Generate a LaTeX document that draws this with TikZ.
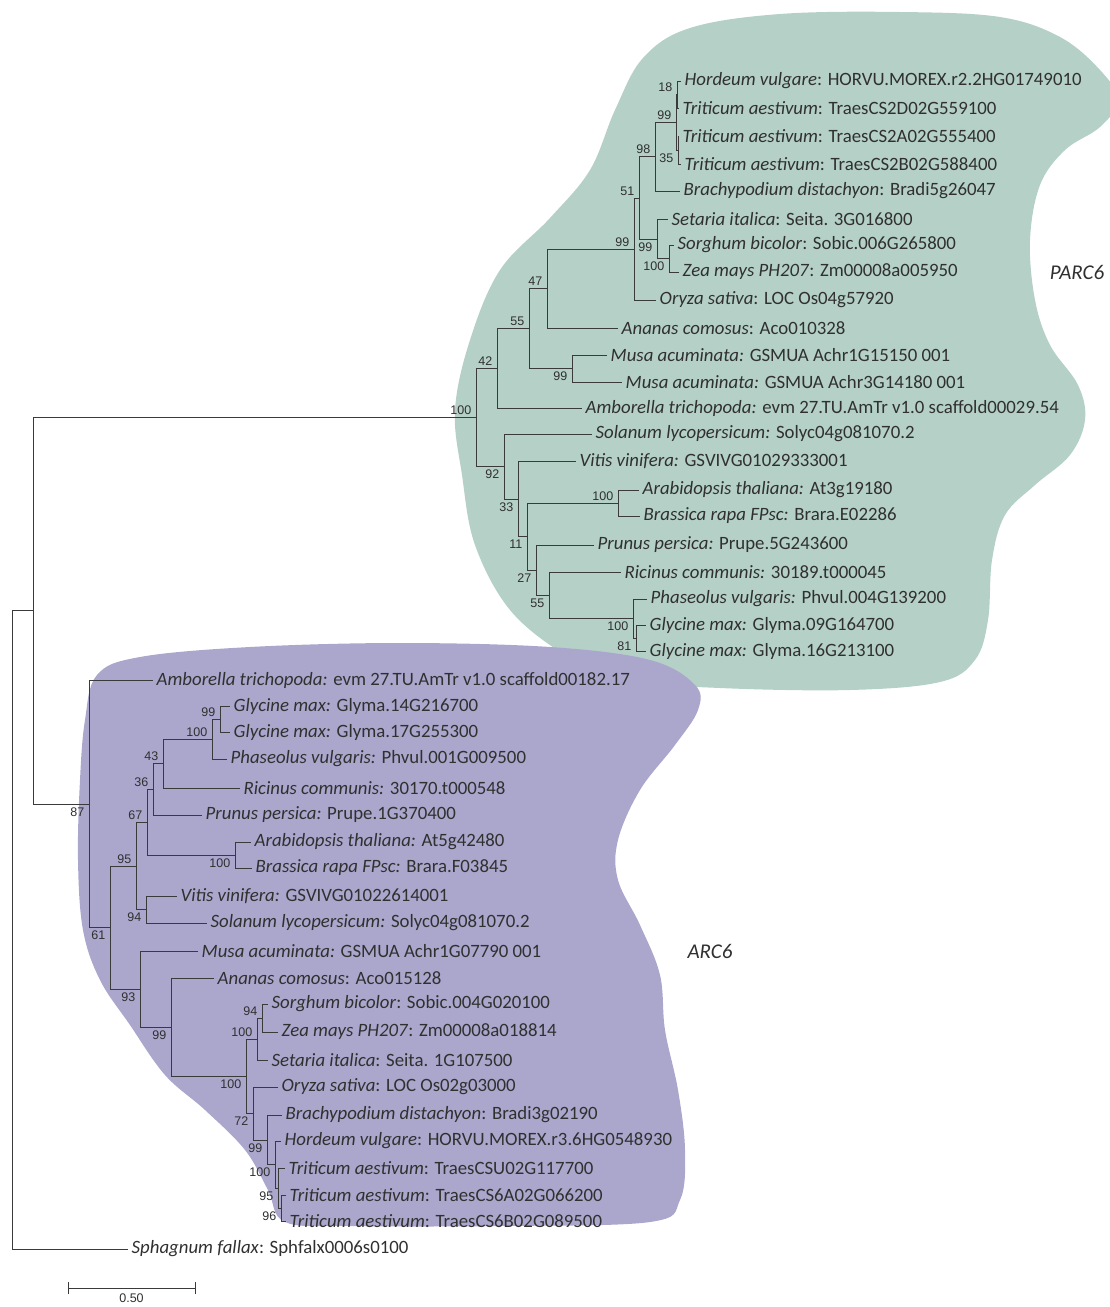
\documentclass[tikz,border=0pt]{standalone}
\usepackage{fontspec}
\setmainfont{Carlito}
\newfontfamily\bsfont{Liberation Sans}
\usetikzlibrary{positioning}

\definecolor{parcgreen}{HTML}{B4D0C7}
\definecolor{arcpurple}{HTML}{AAA6CC}
\definecolor{branch}{HTML}{3A3A3A}
\definecolor{txtgray}{HTML}{303030}

\tikzset{
  leaf/.style={anchor=west, inner xsep=3.5pt, inner ysep=2pt, font=\fontsize{18.8}{19}\selectfont, text=txtgray},
  bs/.style={inner sep=1.5pt, font=\bsfont\fontsize{12.5}{13}\selectfont, text=txtgray},
  br/.style={draw=branch, line width=1pt},
  group/.style={inner sep=0pt, font=\fontsize{21}{22}\selectfont\itshape, text=txtgray},
}

\begin{document}
\begin{tikzpicture}[x=1pt,y=-1pt]
\useasboundingbox (0,0) rectangle (1110,1307);

%Draw PARC6 region
\fill[parcgreen] plot[smooth cycle, tension=0.6] coordinates {
  (643,58) (690,28) (780,14) (900,12) (1000,17) (1060,37) (1100,70) (1118,100)
  (1100,127) (1065,150) (1040,185) (1030,240) (1035,300) (1050,345) (1078,385)
  (1085,420) (1070,455) (1035,485) (1005,515) (992,560) (988,620) (975,660)
  (940,682) (850,690) (720,688) (620,680) (565,655) (510,610) (475,545)
  (462,475) (455,410) (470,340) (500,270) (550,218) (590,170) (615,110)};
\node[group] (parc) at (1077,272) {PARC6};

%Draw ARC6 region
\fill[arcpurple] plot[smooth cycle, tension=0.6] coordinates {
  (97,675) (140,657) (250,647) (400,643) (550,647) (650,660) (695,685)
  (698,710) (675,745) (640,790) (618,840) (618,880) (640,925) (660,975)
  (665,1030) (678,1090) (685,1150) (680,1200) (650,1222) (500,1226)
  (350,1226) (285,1222) (268,1190) (245,1150) (205,1110) (165,1075)
  (130,1025) (100,980) (83,930) (78,860) (80,780) (85,720)};
\node[group] (arc) at (710,951) {ARC6};

% PARC6 leaves
\node[leaf] (p1) at (681,81) {\textit{Hordeum vulgare}: HORVU.MOREX.r2.2HG01749010};
\node[leaf] (p2) at (679,108) {\textit{Triticum aestivum}: TraesCS2D02G559100};
\node[leaf] (p3) at (679,136) {\textit{Triticum aestivum}: TraesCS2A02G555400};
\node[leaf] (p4) at (681,164) {\textit{Triticum aestivum}: TraesCS2B02G588400};
\node[leaf] (p5) at (680,191) {\textit{Brachypodium distachyon}: Bradi5g26047};
\node[leaf] (p6) at (668,219) {\textit{Setaria italica}: Seita. 3G016800};
\node[leaf] (p7) at (674,245) {\textit{Sorghum bicolor}: Sobic.006G265800};
\node[leaf] (p8) at (679,272) {\textit{Zea mays PH207}: Zm00008a005950};
\node[leaf] (p9) at (656,300) {\textit{Oryza sativa}: LOC Os04g57920};
\node[leaf] (p10) at (618,328) {\textit{Ananas comosus}: Aco010328};
\node[leaf] (p11) at (607,355) {\textit{Musa acuminata:} GSMUA Achr1G15150 001};
\node[leaf] (p12) at (622,382) {\textit{Musa acuminata:} GSMUA Achr3G14180 001};
\node[leaf] (p13) at (582,408) {\textit{Amborella trichopoda:} evm 27.TU.AmTr v1.0 scaffold00029.54};
\node[leaf] (p14) at (592,434) {\textit{Solanum lycopersicum:} Solyc04g081070.2};
\node[leaf] (p15) at (576,461) {\textit{Vitis vinifera:} GSVIVG01029333001};
\node[leaf] (p16) at (639,490) {\textit{Arabidopsis thaliana:} At3g19180};
\node[leaf] (p17) at (640,516) {\textit{Brassica rapa FPsc:} Brara.E02286};
\node[leaf] (p18) at (594,545) {\textit{Prunus persica:} Prupe.5G243600};
\node[leaf] (p19) at (621,572) {\textit{Ricinus communis:} 30189.t000045};
\node[leaf] (p20) at (647,599) {\textit{Phaseolus vulgaris:} Phvul.004G139200};
\node[leaf] (p21) at (646,625) {\textit{Glycine max:} Glyma.09G164700};
\node[leaf] (p22) at (646,651) {\textit{Glycine max:} Glyma.16G213100};

% PARC6 inner nodes
\coordinate (pw18) at (677,94.5);
\coordinate (pw35) at (678,150);
\coordinate (pw99) at (676,122);
\coordinate (p98) at (655,156.5);
\coordinate (pzs) at (669,258.5);
\coordinate (ppa) at (657,239);
\coordinate (p51) at (639,198);
\coordinate (p99) at (634,249);
\coordinate (p47) at (547,288.5);
\coordinate (pmu) at (572,368.5);
\coordinate (p55) at (529,328.5);
\coordinate (p42) at (497,368);
\coordinate (pab) at (618,503);
\coordinate (pgl) at (636,638);
\coordinate (ple) at (633,618.5);
\coordinate (p55b) at (549,595);
\coordinate (p27) at (536,570);
\coordinate (p11n) at (527,536.5);
\coordinate (p33) at (518,499);
\coordinate (p92) at (504,466.5);
\coordinate (p100) at (476,417);

% PARC6 branches
\draw[br] (pw18) |- (p1.west) (pw18) |- (p2.west);
\draw[br] (pw35) |- (p3.west) (pw35) |- (p4.west);
\draw[br] (pw99) |- (pw18) (pw99) |- (pw35);
\draw[br] (p98) |- (pw99) (p98) |- (p5.west);
\draw[br] (pzs) |- (p7.west) (pzs) |- (p8.west);
\draw[br] (ppa) |- (p6.west) (ppa) |- (pzs);
\draw[br] (p51) |- (p98) (p51) |- (ppa);
\draw[br] (p99) |- (p51) (p99) |- (p9.west);
\draw[br] (p47) |- (p99) (p47) |- (p10.west);
\draw[br] (pmu) |- (p11.west) (pmu) |- (p12.west);
\draw[br] (p55) |- (p47) (p55) |- (pmu);
\draw[br] (p42) |- (p55) (p42) |- (p13.west);
\draw[br] (pab) |- (p16.west) (pab) |- (p17.west);
\draw[br] (pgl) |- (p21.west) (pgl) |- (p22.west);
\draw[br] (ple) |- (p20.west) (ple) |- (pgl);
\draw[br] (p55b) |- (p19.west) (p55b) |- (ple);
\draw[br] (p27) |- (p18.west) (p27) |- (p55b);
\draw[br] (p11n) |- (pab) (p11n) |- (p27);
\draw[br] (p33) |- (p15.west) (p33) |- (p11n);
\draw[br] (p92) |- (p14.west) (p92) |- (p33);
\draw[br] (p100) |- (p42) (p100) |- (p92);

% PARC6 bootstrap values
\node[bs, above left=1pt and 3pt] (bpw18) at (pw18) {18};
\node[bs, below left=2pt and 3pt] (bpw35) at (pw35) {35};
\node[bs, above left=1pt and 3pt] (bpw99) at (pw99) {99};
\node[bs, above left=1pt and 3pt] (bp98) at (p98) {98};
\node[bs, below left=2pt and 3pt] (bpzs) at (pzs) {100};
\node[bs, below left=2pt and 3pt] (bppa) at (ppa) {99};
\node[bs, above left=1pt and 3pt] (bp51) at (p51) {51};
\node[bs, above left=1pt and 3pt] (bp99) at (p99) {99};
\node[bs, above left=1pt and 3pt] (bp47) at (p47) {47};
\node[bs, below left=2pt and 3pt] (bpmu) at (pmu) {99};
\node[bs, above left=1pt and 3pt] (bp55) at (p55) {55};
\node[bs, above left=1pt and 3pt] (bp42) at (p42) {42};
\node[bs, above left=1pt and 3pt] (bpab) at (pab) {100};
\node[bs, below left=2pt and 3pt] (bpgl) at (pgl) {81};
\node[bs, below left=2pt and 3pt] (bple) at (ple) {100};
\node[bs, below left=2pt and 3pt] (bp55b) at (p55b) {55};
\node[bs, below left=2pt and 3pt] (bp27) at (p27) {27};
\node[bs, below left=2pt and 3pt] (bp11n) at (p11n) {11};
\node[bs, below left=2pt and 3pt] (bp33) at (p33) {33};
\node[bs, below left=2pt and 3pt] (bp92) at (p92) {92};
\node[bs, above left=1pt and 3pt] (bp100) at (p100) {100};

% ARC6 leaves
\node[leaf] (a1) at (153,680) {\textit{Amborella trichopoda:} evm 27.TU.AmTr v1.0 scaffold00182.17};
\node[leaf] (a2) at (230,706) {\textit{Glycine max:} Glyma.14G216700};
\node[leaf] (a3) at (230,732) {\textit{Glycine max:} Glyma.17G255300};
\node[leaf] (a4) at (227,759) {\textit{Phaseolus vulgaris:} Phvul.001G009500};
\node[leaf] (a5) at (240,788) {\textit{Ricinus communis:} 30170.t000548};
\node[leaf] (a6) at (202,815) {\textit{Prunus persica:} Prupe.1G370400};
\node[leaf] (a7) at (251,842) {\textit{Arabidopsis thaliana:} At5g42480};
\node[leaf] (a8) at (252,868) {\textit{Brassica rapa FPsc:} Brara.F03845};
\node[leaf] (a9) at (177,896) {\textit{Vitis vinifera:} GSVIVG01022614001};
\node[leaf] (a10) at (207,923) {\textit{Solanum lycopersicum:} Solyc04g081070.2};
\node[leaf] (a11) at (198,951) {\textit{Musa acuminata:} GSMUA Achr1G07790 001};
\node[leaf] (a12) at (214,978) {\textit{Ananas comosus}: Aco015128};
\node[leaf] (a13) at (268,1004) {\textit{Sorghum bicolor}: Sobic.004G020100};
\node[leaf] (a14) at (278,1032) {\textit{Zea mays PH207}: Zm00008a018814};
\node[leaf] (a15) at (268,1060) {\textit{Setaria italica}: Seita. 1G107500};
\node[leaf] (a16) at (278,1087) {\textit{Oryza sativa}: LOC Os02g03000};
\node[leaf] (a17) at (282,1115) {\textit{Brachypodium distachyon}: Bradi3g02190};
\node[leaf] (a18) at (281,1141) {\textit{Hordeum vulgare}: HORVU.MOREX.r3.6HG0548930};
\node[leaf] (a19) at (285,1168) {\textit{Triticum aestivum}: TraesCSU02G117700};
\node[leaf] (a20) at (286,1195) {\textit{Triticum aestivum}: TraesCS6A02G066200};
\node[leaf] (a21) at (286,1221) {\textit{Triticum aestivum}: TraesCS6B02G089500};

% ARC6 inner nodes
\coordinate (agl) at (220,719);
\coordinate (a100g) at (212,739);
\coordinate (a43) at (163,763.5);
\coordinate (a36) at (153,789);
\coordinate (aab) at (235,855);
\coordinate (a67) at (147,822);
\coordinate (a94) at (146,909.5);
\coordinate (a95) at (136,866);
\coordinate (azs) at (262,1018);
\coordinate (apa) at (257,1039);
\coordinate (at96) at (281,1208);
\coordinate (at95) at (278,1188);
\coordinate (at100) at (275,1164.5);
\coordinate (at99) at (267,1140);
\coordinate (a72) at (253,1113.5);
\coordinate (a100c) at (246,1076);
\coordinate (a99m) at (171,1027);
\coordinate (a93) at (140,989);
\coordinate (a61) at (110,927.5);
\coordinate (a87) at (89,804);

% ARC6 branches
\draw[br] (agl) |- (a2.west) (agl) |- (a3.west);
\draw[br] (a100g) |- (agl) (a100g) |- (a4.west);
\draw[br] (a43) |- (a100g) (a43) |- (a5.west);
\draw[br] (a36) |- (a43) (a36) |- (a6.west);
\draw[br] (aab) |- (a7.west) (aab) |- (a8.west);
\draw[br] (a67) |- (a36) (a67) |- (aab);
\draw[br] (a94) |- (a9.west) (a94) |- (a10.west);
\draw[br] (a95) |- (a67) (a95) |- (a94);
\draw[br] (azs) |- (a13.west) (azs) |- (a14.west);
\draw[br] (apa) |- (azs) (apa) |- (a15.west);
\draw[br] (at96) |- (a20.west) (at96) |- (a21.west);
\draw[br] (at95) |- (a19.west) (at95) |- (at96);
\draw[br] (at100) |- (a18.west) (at100) |- (at95);
\draw[br] (at99) |- (a17.west) (at99) |- (at100);
\draw[br] (a72) |- (a16.west) (a72) |- (at99);
\draw[br] (a100c) |- (apa) (a100c) |- (a72);
\draw[br] (a99m) |- (a12.west) (a99m) |- (a100c);
\draw[br] (a93) |- (a11.west) (a93) |- (a99m);
\draw[br] (a61) |- (a95) (a61) |- (a93);
\draw[br] (a87) |- (a1.west) (a87) |- (a61);

% ARC6 bootstrap values
\node[bs, above left=1pt and 3pt] (bagl) at (agl) {99};
\node[bs, above left=1pt and 3pt] (ba100g) at (a100g) {100};
\node[bs, above left=1pt and 3pt] (ba43) at (a43) {43};
\node[bs, above left=1pt and 3pt] (ba36) at (a36) {36};
\node[bs, below left=2pt and 3pt] (baab) at (aab) {100};
\node[bs, above left=1pt and 3pt] (ba67) at (a67) {67};
\node[bs, below left=2pt and 3pt] (ba94) at (a94) {94};
\node[bs, above left=1pt and 3pt] (ba95) at (a95) {95};
\node[bs, above left=1pt and 3pt] (bazs) at (azs) {94};
\node[bs, above left=1pt and 3pt] (bapa) at (apa) {100};
\node[bs, below left=2pt and 3pt] (bat96) at (at96) {96};
\node[bs, below left=2pt and 3pt] (bat95) at (at95) {95};
\node[bs, below left=2pt and 3pt] (bat100) at (at100) {100};
\node[bs, below left=2pt and 3pt] (bat99) at (at99) {99};
\node[bs, below left=2pt and 3pt] (ba72) at (a72) {72};
\node[bs, below left=2pt and 3pt] (ba100c) at (a100c) {100};
\node[bs, below left=2pt and 3pt] (ba99m) at (a99m) {99};
\node[bs, below left=2pt and 3pt] (ba93) at (a93) {93};
\node[bs, below left=2pt and 3pt] (ba61) at (a61) {61};
\node[bs, below left=2pt and 3pt] (ba87) at (a87) {87};

% root and outgroup
\node[leaf] (sph) at (128,1249) {\textit{Sphagnum fallax}: Sphfalx0006s0100};
\coordinate (nin) at (33,610.5);
\coordinate (root) at (12,930);
\draw[br] (nin) |- (p100) (nin) |- (a87);
\draw[br] (root) |- (nin) (root) |- (sph.west);

% scale bar
\coordinate (sb1) at (68,1288);
\coordinate (sb2) at (195,1288);
\draw[br] (sb1) -- node[bs, below=4pt] (sblab) {0.50} (sb2);
\draw[br] ([yshift=-6pt]sb1) -- ([yshift=6pt]sb1);
\draw[br] ([yshift=-6pt]sb2) -- ([yshift=6pt]sb2);
\end{tikzpicture}
\end{document}
